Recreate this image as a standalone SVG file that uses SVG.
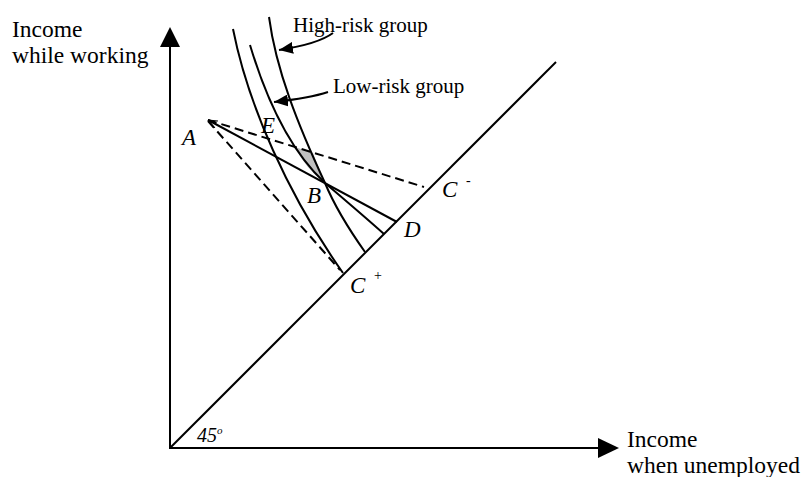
<svg xmlns="http://www.w3.org/2000/svg" width="808" height="477" viewBox="0 0 808 477">
<style>
.ln{fill:none;stroke:#000;stroke-width:2}
.ds{fill:none;stroke:#000;stroke-width:2;stroke-dasharray:9 5}
.ax{font-family:"Liberation Serif","Times New Roman",serif;font-size:23.5px;fill:#000}
.gl{font-family:"Liberation Serif","Times New Roman",serif;font-size:21px;fill:#000}
.pt{font-family:"Liberation Serif","Times New Roman",serif;font-size:23px;font-style:italic;fill:#000}
.sup{font-family:"Liberation Serif","Times New Roman",serif;font-size:14px;fill:#000}
</style>
<defs>
<marker id="tri" markerUnits="userSpaceOnUse" markerWidth="16" markerHeight="12" refX="14" refY="6" orient="auto">
<path d="M0,0 L14,6 L0,12 Z" fill="#000"/>
</marker>
</defs>
<g id="shade">
<path d="M295,147 L313,153 Q319,168 325,183 Q305,168 295,147 Z" fill="#c0c0c0"/>
</g>
<g id="axes">
<line class="ln" x1="170" y1="449" x2="170" y2="45"/>
<path d="M160,47 L170,27 L180,47 Z" fill="#000"/>
<line class="ln" x1="169" y1="448" x2="600" y2="448"/>
<path d="M598,438 L619,448 L598,458 Z" fill="#000"/>
<line class="ln" x1="170" y1="448" x2="556" y2="62"/>
</g>
<g id="curves">
<path id="curve-low-outer" class="ln" d="M233,29 C248,105 288,195 343,273"/>
<path id="curve-low" class="ln" d="M250,45 C265,95 287,148 325,183 C345,200 365,217 384,234"/>
<path id="curve-high" class="ln" d="M269,17 C276,70 298,125 325,183 C335,207 348,228 365,252"/>
</g>
<g id="connectors">
<line class="ds" x1="208" y1="120" x2="424" y2="187"/>
<line class="ds" x1="208" y1="121" x2="340" y2="270"/>
<line class="ln" x1="208" y1="120" x2="397" y2="222"/>
<path d="M218,121 L208,120 L215,128" fill="none" stroke="#000" stroke-width="1"/>
<path class="ln" d="M333,33 Q318,44 279,50" marker-end="url(#tri)"/>
<path class="ln" d="M328,92 Q310,98 274,102" marker-end="url(#tri)"/>
</g>
<g id="labels">
<text class="ax" x="12" y="37">Income</text>
<text class="ax" x="12" y="63">while working</text>
<text class="ax" x="627" y="447">Income</text>
<text class="ax" x="627" y="473">when unemployed</text>
<text class="gl" x="293" y="32">High-risk group</text>
<text class="gl" x="333" y="93">Low-risk group</text>
<text class="pt" x="182" y="145">A</text>
<text class="pt" x="261" y="133">E</text>
<text class="pt" x="307" y="203">B</text>
<text class="pt" x="404" y="237">D</text>
<text class="pt" x="442" y="197">C</text>
<text class="sup" x="466" y="185">-</text>
<text class="pt" x="350" y="293">C</text>
<text class="sup" x="374" y="280">+</text>
<text class="pt" x="197" y="442" style="font-size:20px">45</text>
<text class="sup" x="217" y="434" style="font-size:11px;font-style:italic">o</text>
</g>
</svg>
